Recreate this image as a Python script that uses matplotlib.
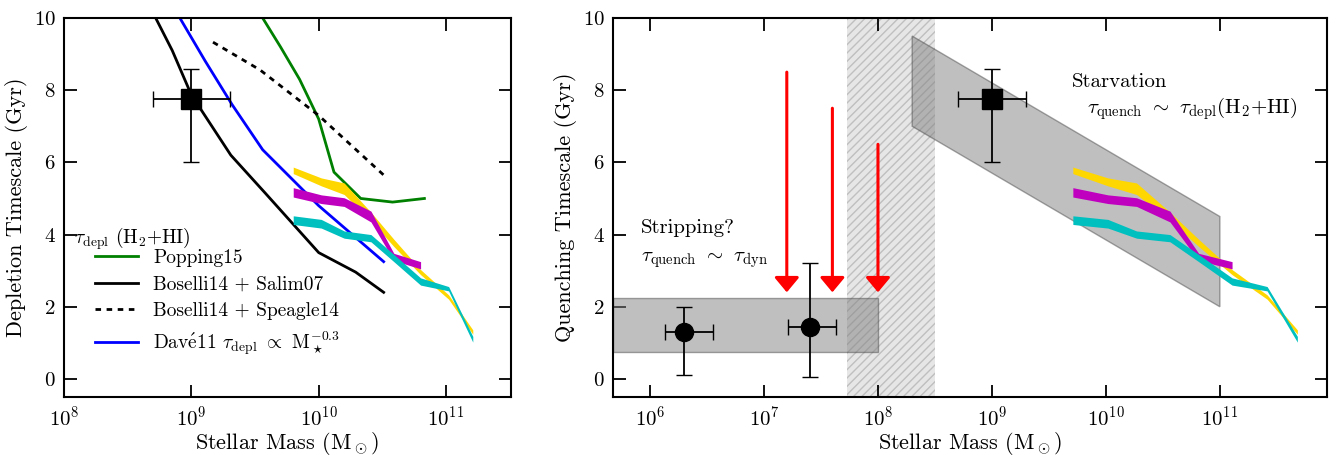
import numpy as np
import matplotlib.pyplot as plt
from matplotlib.patches import Polygon, Rectangle

plt.rcParams['font.family'] = 'serif'
plt.rcParams['font.serif'] = ['cmr10']
plt.rcParams['mathtext.fontset'] = 'cm'
plt.rcParams['axes.formatter.use_mathtext'] = True
plt.rcParams['axes.unicode_minus'] = False

# log stellar mass / timescale (Gyr)
pop_x = [9.56, 9.7, 9.85, 10.0, 10.12, 10.33, 10.58, 10.83]
pop_y = [10.0, 9.2, 8.3, 7.2, 5.73, 5.0, 4.9, 5.0]
bs_x = [8.72, 8.85, 9.0, 9.31, 9.58, 10.0, 10.29, 10.51]
bs_y = [10.0, 9.1, 7.87, 6.2, 5.15, 3.5, 2.96, 2.4]
bsp_x = [9.17, 9.54, 10.0, 10.51]
bsp_y = [9.33, 8.56, 7.3, 5.65]
dave_x = [8.91, 9.11, 9.32, 9.56, 10.0, 10.51]
dave_y = [10.0, 8.8, 7.6, 6.35, 4.8, 3.25]

yel_x = [9.80, 10.02, 10.2, 10.41, 10.59, 10.80, 11.02, 11.21]
yel_y = [5.78, 5.46, 5.27, 4.5, 3.77, 2.96, 2.27, 1.3]
yel_w = [0.09, 0.11, 0.16, 0.12, 0.1, 0.07, 0.06, 0.06]
mag_x = [9.80, 10.02, 10.2, 10.41, 10.59, 10.80]
mag_y = [5.17, 4.98, 4.9, 4.5, 3.38, 3.15]
mag_w = [0.13, 0.12, 0.12, 0.15, 0.1, 0.1]
cyan_x = [9.80, 10.02, 10.2, 10.41, 10.59, 10.80, 11.02, 11.21]
cyan_y = [4.4, 4.3, 4.0, 3.9, 3.35, 2.7, 2.5, 1.1]
cyan_w = [0.12, 0.12, 0.1, 0.1, 0.1, 0.1, 0.06, 0.08]

sq_x, sq_y = 9.0, 7.75
sq_xerr = [8.7, 9.3]
sq_yerr = [6.0, 8.6]

circ_x = [6.30, 7.40]
circ_y = [1.3, 1.45]
circ_xlo = [6.13, 7.21]
circ_xhi = [6.55, 7.63]
circ_ylo = [0.1, 0.05]
circ_yhi = [2.0, 3.2]

arrow_x = [7.20, 7.60, 8.0]
arrow_top = [8.5, 7.5, 6.5]
arrow_tip = 2.4

fig = plt.figure(figsize=(13.38, 4.55), dpi=100)
ax1 = fig.add_axes([64/1338, 58/455, 447/1338, 379/455])
ax2 = fig.add_axes([613/1338, 58/455, 714/1338, 379/455])

def bands(ax, xs):
    for x, y, w, c in [(xs(yel_x), yel_y, yel_w, 'gold'),
                       (xs(mag_x), mag_y, mag_w, 'm'),
                       (xs(cyan_x), cyan_y, cyan_w, 'c')]:
        y = np.array(y); w = np.array(w)
        ax.fill_between(x, y - w, y + w, color=c, lw=0, zorder=3)

def square(ax):
    ax.errorbar([10**sq_x], [sq_y],
                xerr=[[10**sq_x - 10**sq_xerr[0]], [10**sq_xerr[1] - 10**sq_x]],
                yerr=[[sq_y - sq_yerr[0]], [sq_yerr[1] - sq_y]],
                fmt='s', color='k', ms=15, capsize=6, lw=1.3, zorder=6)

# left panel
ax1.plot(10**np.array(pop_x), pop_y, color='green', lw=2, label='Popping15')
ax1.plot(10**np.array(bs_x), bs_y, color='k', lw=2, label='Boselli14 + Salim07')
ax1.plot(10**np.array(bsp_x), bsp_y, color='k', lw=2, ls=':', dashes=(2, 2),
         label='Boselli14 + Speagle14')
ax1.plot(10**np.array(dave_x), dave_y, color='b', lw=2,
         label=r'Dav$\acute{\rm e}$11 $\tau_{\rm depl}$ $\propto$ M$_\star^{-0.3}$')
bands(ax1, lambda x: 10**np.array(x))
square(ax1)
leg = ax1.legend(loc='lower left', bbox_to_anchor=(0.03, 0.06), frameon=False,
                 fontsize=14, handlelength=2.2, labelspacing=0.45)
ax1.text(0.022, 0.405, r'$\tau_{\rm depl}$ (H$_2$+HI)', transform=ax1.transAxes,
         fontsize=14)
ax1.set_xlim(1e8, 10**11.51)
ax1.set_ylabel('Depletion Timescale (Gyr)', fontsize=16, labelpad=4)

# right panel
ax2.axvspan(10**7.73, 10**8.5, facecolor='0.9', edgecolor='0.75', hatch='////',
            lw=0, zorder=1)
ax2.add_patch(Rectangle((10**5.675, 0.75), 1e8 - 10**5.675, 1.5,
                        facecolor='0.5', alpha=0.5, edgecolor='0.3', zorder=2))
ax2.add_patch(Polygon([(10**8.3, 9.5), (1e11, 4.5), (1e11, 2.0), (10**8.3, 7.0)],
                      closed=True, facecolor='0.5', alpha=0.5, edgecolor='0.3', zorder=2))
bands(ax2, lambda x: 10**(9.71 + (np.array(x) - 9.80) * 1.397))
square(ax2)
cx = np.array(circ_x); cy = np.array(circ_y)
ax2.errorbar(10**cx, cy,
             xerr=[10**cx - 10**np.array(circ_xlo), 10**np.array(circ_xhi) - 10**cx],
             yerr=[cy - np.array(circ_ylo), np.array(circ_yhi) - cy],
             fmt='o', color='k', ms=13, capsize=6, lw=1.3, zorder=6)
for x, t in zip(arrow_x, arrow_top):
    ax2.annotate('', xy=(10**x, arrow_tip), xytext=(10**x, t),
                 arrowprops=dict(arrowstyle='-|>,head_width=0.75,head_length=0.9',
                                 color='red', lw=2.2, shrinkA=0, shrinkB=0), zorder=7)
ax2.text(10**5.92, 4.05, 'Stripping?', fontsize=15)
ax2.text(10**5.92, 3.25, r'$\tau_{\rm quench}$ $\sim$ $\tau_{\rm dyn}$', fontsize=15)
ax2.text(10**9.7, 8.1, 'Starvation', fontsize=15)
ax2.text(10**9.83, 7.35, r'$\tau_{\rm quench}$ $\sim$ $\tau_{\rm depl}$(H$_2$+HI)', fontsize=15)
ax2.set_xlim(10**5.675, 10**11.94)
ax2.set_ylabel('Quenching Timescale (Gyr)', fontsize=16, labelpad=4)

for ax in (ax1, ax2):
    ax.set_xscale('log')
    ax.set_ylim(-0.5, 10)
    ax.set_yticks([0, 2, 4, 6, 8, 10])
    ax.set_xlabel(r'Stellar Mass (M$_\odot$)', fontsize=16, labelpad=0)
    ax.minorticks_off()
    ax.tick_params(direction='in', which='major', length=9, width=1.3,
                   top=True, right=True, labelsize=15, pad=6)
    for s in ax.spines.values():
        s.set_linewidth(1.5)

fig.savefig('out.png', dpi=100)
